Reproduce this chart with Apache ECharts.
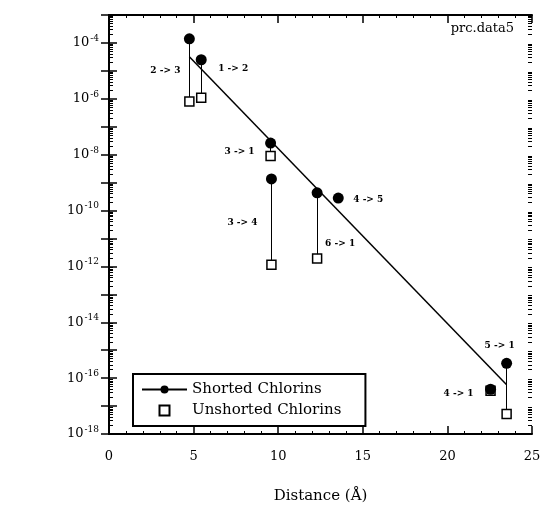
<!DOCTYPE html>
<html>
<head>
<meta charset="utf-8">
<script src="https://cdn.jsdelivr.net/npm/echarts@6/dist/echarts.min.js"></script>
<style>
html, body { margin: 0; padding: 0; background: #fff; }
#container { width: 544px; height: 513px; }
</style>
</head>
<body>
<div id="container"></div>
<script>
// transfer pairs, distance in Angstrom, coupling^2 values
var pairNames = ['2 -> 3', '1 -> 2', '3 -> 1', '3 -> 4', '6 -> 1', '4 -> 5', '4 -> 1', '5 -> 1'];
var distance = [4.75, 5.45, 9.55, 9.6, 12.3, 13.55, 22.55, 23.5];
var shorted = [1.4e-4, 2.5e-5, 2.6e-8, 1.35e-9, 4.3e-10, 2.8e-10, 4e-17, 3.4e-16];
var unshorted = [8e-7, 1.1e-6, 9e-9, 1.15e-12, 1.9e-12, null, 3.5e-17, 5.2e-18];
// fitted line end points
var fitX = [4.75, 23.5];
var fitY = [3.2e-5, 5.8e-17];
var xTicks = [0, 5, 10, 15, 20, 25];
var yMinExp = -18, yMaxExp = -3;

// label offsets (px) from the filled circle
var labelOffset = [[-24, 32], [32, 9], [-31, 9], [-29, 44], [23, 51], [30, 2], [-32, 4], [-7, -18]];

var FONT = 'DejaVu Serif';
var dom = document.getElementById('container');
var myChart = echarts.init(dom);

function lg(v) { return Math.log10(v); }

var minorVals = [];
for (var e = yMinExp; e < yMaxExp; e++) {
    for (var k = 2; k <= 9; k++) {
        minorVals.push(e + Math.log10(k));
    }
}

var connectors = [];
var shortedData = [];
var unshortedData = [];
for (var i = 0; i < pairNames.length; i++) {
    shortedData.push({
        value: [distance[i], lg(shorted[i])],
        label: {
            show: true,
            formatter: pairNames[i],
            position: 'inside',
            offset: labelOffset[i],
            color: '#000',
            fontFamily: FONT,
            fontSize: 9,
            fontWeight: 'bold'
        }
    });
    if (unshorted[i] != null) {
        unshortedData.push([distance[i], lg(unshorted[i])]);
        connectors.push({coords: [[distance[i], lg(shorted[i])], [distance[i], lg(unshorted[i])]]});
    }
}

var tickAxis = function (pos, idx) {
    return {
        type: 'value', position: pos, min: yMinExp, max: yMaxExp, interval: 1,
        gridIndex: 0,
        axisLine: {show: idx === 0 || idx === 1, lineStyle: {color: '#000', width: 2}},
        axisTick: {show: true, inside: true, length: 8, lineStyle: {color: '#000', width: 1.5}},
        axisLabel: {show: false},
        splitLine: {show: false}
    };
};

var yLeft = tickAxis('left', 0);
yLeft.axisLabel = {
    show: true,
    margin: 10,
    formatter: function (v) {
        if (Math.round(v) % 2 !== 0 || v > -4) return '';
        return '{b|10}{s|' + v + '}';
    },
    rich: {
        b: {fontFamily: FONT, fontSize: 13, color: '#000'},
        s: {fontFamily: FONT, fontSize: 9, color: '#000', padding: [0, 0, 9, 1]}
    }
};
var yRight = tickAxis('right', 1);
var yLeftMinor = tickAxis('left', 2);
yLeftMinor.axisTick = {show: true, inside: true, length: 4, customValues: minorVals, lineStyle: {color: '#000', width: 1}};
var yRightMinor = tickAxis('right', 3);
yRightMinor.axisTick = {show: true, inside: true, length: 4, customValues: minorVals, lineStyle: {color: '#000', width: 1}};

option = {
    backgroundColor: '#fff',
    animation: false,
    grid: {left: 109, right: 12, top: 15, bottom: 79},
    legend: {
        data: [
            {name: 'Shorted Chlorins'},
            {name: 'Unshorted Chlorins', icon: 'path://M0,0L10,0L10,10L0,10Z'}
        ],
        orient: 'vertical',
        left: 133,
        top: 374,
        selectedMode: false,
        symbolKeepAspect: true,
        backgroundColor: '#fff',
        borderColor: '#000',
        borderWidth: 2,
        borderRadius: 0,
        padding: [8, 24, 8, 8],
        itemGap: 6,
        itemWidth: 45,
        itemHeight: 10,
        textStyle: {fontFamily: FONT, fontSize: 15, color: '#000'}
    },
    graphic: [{
        type: 'text', right: 30, top: 22,
        style: {text: 'prc.data5', fontFamily: FONT, fontSize: 13, fill: '#000'}
    }],
    xAxis: [{
        type: 'value', position: 'bottom', min: 0, max: 25, interval: 5,
        name: 'Distance (Å)', nameLocation: 'middle', nameGap: 55,
        nameTextStyle: {fontFamily: FONT, fontSize: 15, color: '#000'},
        axisLine: {lineStyle: {color: '#000', width: 2}},
        axisTick: {inside: true, length: 8, lineStyle: {color: '#000', width: 1.5}},
        minorTick: {show: true, splitNumber: 5, length: 3, lineStyle: {color: '#000'}},
        axisLabel: {margin: 16, fontFamily: FONT, fontSize: 13, color: '#000',
            formatter: function (v) { return xTicks.indexOf(v) >= 0 ? String(v) : ''; }},
        splitLine: {show: false}
    }, {
        type: 'value', position: 'top', min: 0, max: 25, interval: 5,
        axisLine: {lineStyle: {color: '#000', width: 2}},
        axisTick: {inside: true, length: 8, lineStyle: {color: '#000', width: 1.5}},
        minorTick: {show: true, splitNumber: 5, length: 3, lineStyle: {color: '#000'}},
        axisLabel: {show: false},
        splitLine: {show: false}
    }],
    yAxis: [yLeft, yRight, yLeftMinor, yRightMinor],
    series: [{
        type: 'lines',
        coordinateSystem: 'cartesian2d',
        silent: true,
        lineStyle: {color: '#000', width: 1, opacity: 1},
        data: connectors,
        z: 2
    }, {
        name: 'Shorted Chlorins',
        type: 'line',
        data: [[fitX[0], lg(fitY[0])], [fitX[1], lg(fitY[1])]],
        symbol: 'circle',
        symbolSize: 10,
        showSymbol: false,
        lineStyle: {color: '#000', width: 1.5},
        itemStyle: {color: '#000'},
        z: 3
    }, {
        name: 'Unshorted Chlorins',
        type: 'scatter',
        symbol: 'rect',
        symbolSize: 9,
        itemStyle: {color: '#fff', borderColor: '#000', borderWidth: 1.5, opacity: 1},
        data: unshortedData,
        z: 4
    }, {
        name: 'Shorted Chlorins',
        type: 'scatter',
        symbol: 'circle',
        symbolSize: 11,
        itemStyle: {color: '#000', opacity: 1},
        data: shortedData,
        z: 5
    }]
};
myChart.setOption(option);
</script>
</body>
</html>
